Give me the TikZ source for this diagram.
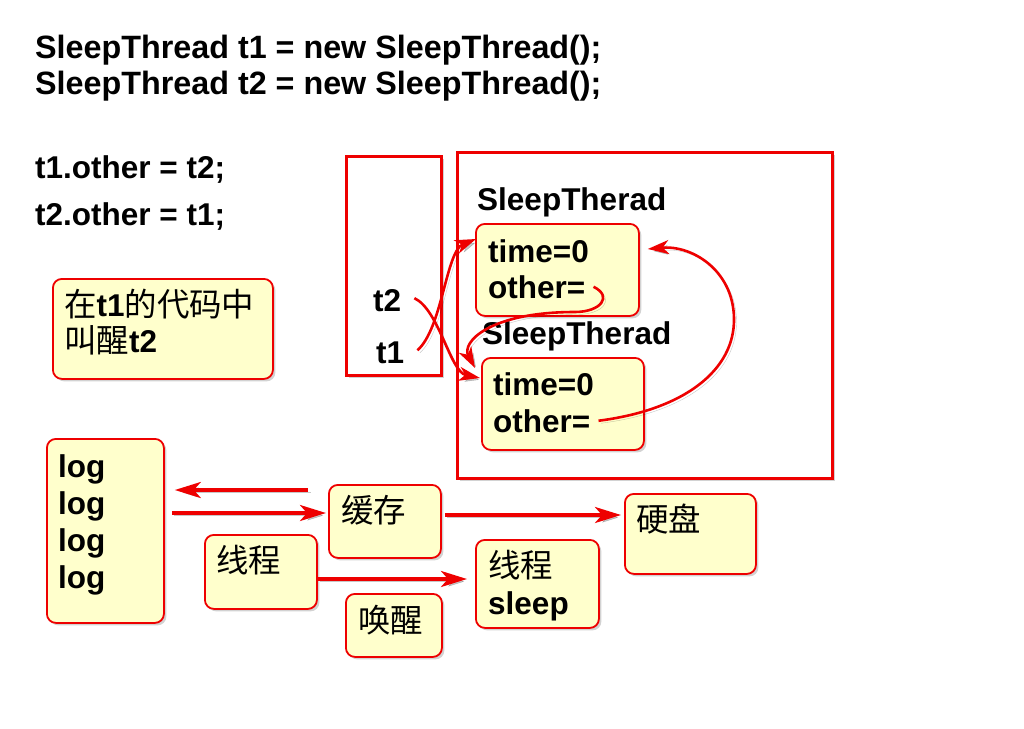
\documentclass[tikz,border=0pt]{standalone}
\usepackage{fontspec}
\setmainfont{Liberation Sans}
\newfontfamily\cjk{Noto Sans CJK SC}[Scale=1.03]
\newcommand\myzh[1]{{\cjk\mdseries #1}}
\usetikzlibrary{arrows.meta,shadows,calc}
\definecolor{boxred}{RGB}{238,0,0}
\definecolor{boxfill}{RGB}{255,255,204}
\begin{document}
\begin{tikzpicture}[x=1pt,y=-1pt,
  lbl/.style={inner sep=0pt, anchor=base west, font=\fontsize{31.5}{37}\selectfont\bfseries},
  codelbl/.style={lbl, font=\fontsize{32.3}{37}\selectfont\bfseries},
  shadowed/.style={drop shadow={shadow xshift=2.5pt,shadow yshift=-2.5pt,opacity=0.35}},
  ybox/.style={draw=boxred, line width=1.8pt, fill=boxfill, rounded corners=9pt, inner sep=0pt, anchor=north west, shadowed},
  frame/.style={draw=boxred, line width=3pt, fill=white, inner sep=0pt, anchor=north west, shadowed},
  ashadow/.style={preaction={draw=black, opacity=0.22, transform canvas={shift={(2.5pt,-2.5pt)}}}},
  arr/.style={draw=boxred, line width=3.5pt, ashadow, -{Stealth[length=26pt,width=16pt,inset=7pt]}},
  carr/.style={draw=boxred, line width=2.6pt, ashadow, -{Stealth[length=21pt,width=14pt,inset=6pt]}},
]
\fill[white] (0,0) rectangle (1024,728);
\useasboundingbox (0,0) rectangle (1024,728);

% code text
\node[codelbl] (code1) at (35,58) {SleepThread t1 = new SleepThread();};
\node[codelbl] (code2) at (35,94) {SleepThread t2 = new SleepThread();};
\node[lbl] (code3) at (35,178) {t1.other = t2;};
\node[lbl] (code4) at (35,225) {t2.other = t1;};

% note box
\node[ybox, minimum width=220pt, minimum height=100pt] (note) at (52,278) {};
\node[lbl] (note1) at (64,316) {\myzh{在}t1\myzh{的代码中}};
\node[lbl] (note2) at (64,352) {\myzh{叫醒}t2};

% stack and heap frames
\node[frame, minimum width=95pt, minimum height=219pt] (stack) at (345,155) {};
\node[frame, minimum width=375pt, minimum height=326pt] (heap) at (456,151) {};
\node[lbl] (t2) at (373,311) {t2};
\node[lbl] (t1) at (376,363) {t1};

% objects
\node[lbl] (st1) at (477,210) {SleepTherad};
\node[ybox, minimum width=163pt, minimum height=92pt] (obj1) at (475,223) {};
\node[lbl] (time1) at (488,262) {time=0};
\node[lbl] (other1) at (488,298) {other=};

\node[lbl] (st2) at (482,344) {SleepTherad};
\node[ybox, minimum width=162pt, minimum height=92pt] (obj2) at (481,357) {};
\node[lbl] (time2) at (493,395) {time=0};
\node[lbl] (other2) at (493,432) {other=};

% reference arrows
\draw[carr] ([xshift=13pt,yshift=2pt]t1.east) .. controls +(25,-22) and +(-30,12) .. ([xshift=1pt,yshift=-16pt]obj1.north west);
\draw[carr] ([xshift=13pt,yshift=2pt]t2.east) .. controls +(25,12) and +(-30,-6) .. ([xshift=-1pt,yshift=-21pt]obj2.north west);
\draw[carr] ([xshift=8pt,yshift=0pt]other1.east) .. controls +(20,10) and +(25,0) .. (575,312) .. controls +(-85,0) and +(-14,-26) .. ([xshift=-6pt,yshift=-11pt]obj2.north west);
\draw[carr] ([xshift=8pt,yshift=0pt]other2.east) .. controls +(86,-11) and +(1,52) .. (734,318) .. controls +(-1,-48) and +(44,-4) .. ([xshift=8pt,yshift=-26pt]obj1.north east);

% bottom diagram
\node[ybox, minimum width=117pt, minimum height=184pt] (logbox) at (46,438) {};
\node[lbl] (log1) at (58,477) {log};
\node[lbl] (log2) at (58,514) {log};
\node[lbl] (log3) at (58,551) {log};
\node[lbl] (log4) at (58,588) {log};

\node[ybox, minimum width=112pt, minimum height=73pt] (cache) at (328,484) {};
\node[lbl] (cachet) at (341,522) {\myzh{缓存}};
\node[ybox, minimum width=131pt, minimum height=80pt] (disk) at (624,493) {};
\node[lbl] (diskt) at (636,531) {\myzh{硬盘}};
\node[ybox, minimum width=112pt, minimum height=74pt] (thread) at (204,534) {};
\node[lbl] (threadt) at (216,572) {\myzh{线程}};
\node[ybox, minimum width=96pt, minimum height=63pt] (wake) at (345,593) {};
\node[lbl] (waket) at (358,632) {\myzh{唤醒}};
\node[ybox, minimum width=123pt, minimum height=88pt] (sleepbox) at (475,539) {};
\node[lbl] (sleept1) at (488,577) {\myzh{线程}};
\node[lbl] (sleept2) at (488,614) {sleep};

\draw[arr] ($(cache.north west)+(-20,6)$) -- ($(logbox.north east)+(10,52)$);
\draw[arr] ($(logbox.north east)+(7,75)$) -- ($(cache.north west)+(-2,29)$);
\draw[arr] ($(cache.north east)+(3,31)$) -- ($(disk.north west)+(-3,22)$);
\draw[arr] ($(thread.north east)+(0,45)$) -- ($(sleepbox.north west)+(-8,40)$);
\end{tikzpicture}
\end{document}
